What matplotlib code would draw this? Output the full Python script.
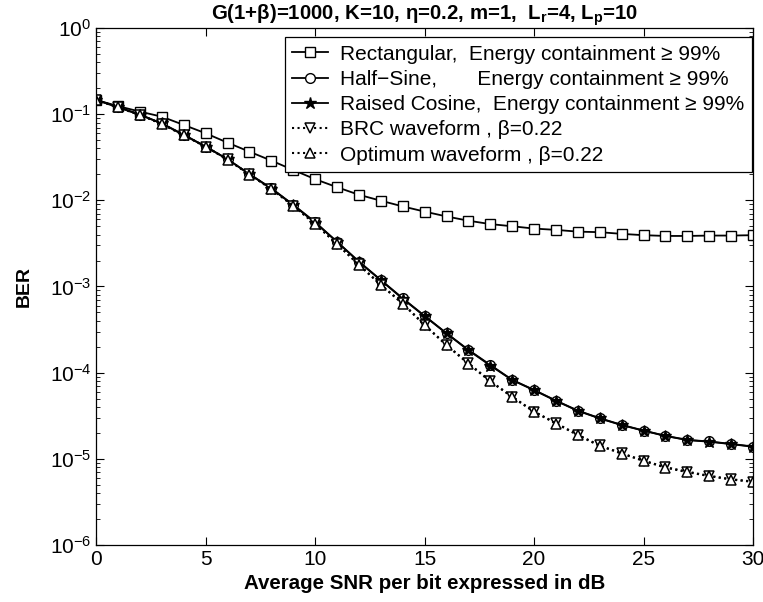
import numpy as np
import matplotlib
matplotlib.use("Agg")
import matplotlib.pyplot as plt
from matplotlib.ticker import LogLocator, NullFormatter, MultipleLocator

plt.rcParams['font.family'] = ['Liberation Sans', 'DejaVu Sans']
plt.rcParams['mathtext.fontset'] = 'custom'
plt.rcParams['mathtext.rm'] = 'Liberation Sans'

# SNR in dB
snr = list(range(0, 31))

# BER values
ber_rect = [0.146, 0.124, 0.107, 0.0935, 0.075, 0.060, 0.0467, 0.0367, 0.0289, 0.0225,
            0.0176, 0.0142, 0.0116, 0.0099, 0.0085, 0.0074, 0.0065, 0.0058, 0.0053, 0.0050,
            0.0047, 0.00454, 0.00433, 0.00427, 0.00408, 0.00394, 0.00386, 0.00386, 0.0039,
            0.0039, 0.00394]
ber_half = [0.146, 0.120, 0.098, 0.078, 0.057, 0.042, 0.030, 0.0202, 0.0138, 0.0089,
            0.0056, 0.0033, 0.00195, 0.00119, 0.00073, 0.000456, 0.000287, 0.000184, 0.000123,
            8.25e-5, 6.3e-5, 4.74e-5, 3.63e-5, 2.96e-5, 2.48e-5, 2.13e-5, 1.85e-5, 1.66e-5,
            1.59e-5, 1.49e-5, 1.39e-5]
ber_rc = [0.147, 0.121, 0.099, 0.078, 0.058, 0.042, 0.030, 0.0200, 0.0137, 0.0088,
          0.0055, 0.0033, 0.00193, 0.00118, 0.00072, 0.000452, 0.000285, 0.000182, 0.000121,
          8.2e-5, 6.25e-5, 4.7e-5, 3.6e-5, 2.94e-5, 2.46e-5, 2.12e-5, 1.84e-5, 1.65e-5,
          1.58e-5, 1.48e-5, 1.38e-5]
ber_brc = [0.146, 0.120, 0.098, 0.077, 0.057, 0.042, 0.0298, 0.0200, 0.0136, 0.0087,
           0.0054, 0.0031, 0.0018, 0.00105, 0.00064, 0.000359, 0.00021, 0.000129, 8.0e-5,
           5.28e-5, 3.54e-5, 2.6e-5, 1.9e-5, 1.43e-5, 1.16e-5, 9.55e-6, 8.0e-6, 7.1e-6,
           6.35e-6, 5.8e-6, 5.45e-6]
ber_opt = [0.146, 0.120, 0.098, 0.077, 0.057, 0.042, 0.0297, 0.0199, 0.0135, 0.0086,
           0.0053, 0.0031, 0.00178, 0.00104, 0.00063, 0.000355, 0.000208, 0.000127, 7.9e-5,
           5.22e-5, 3.5e-5, 2.57e-5, 1.88e-5, 1.41e-5, 1.15e-5, 9.45e-6, 7.9e-6, 7.0e-6,
           6.3e-6, 5.75e-6, 5.4e-6]

labels = ["Rectangular,  Energy containment \u2265 99%",
          "Half\u2212Sine,       Energy containment \u2265 99%",
          "Raised Cosine,  Energy containment \u2265 99%",
          "BRC waveform , \u03b2=0.22",
          "Optimum waveform , \u03b2=0.22"]

fig = plt.figure(figsize=(7.63, 6.02), dpi=100)
ax = fig.add_axes([0.126, 0.0947, 0.861, 0.8588])

ax.semilogy(snr, ber_rect, 'k-s', mfc='white', ms=7, lw=1.3, mew=1.0, label=labels[0])
ax.semilogy(snr, ber_half, 'k-o', mfc='white', ms=7, lw=1.3, mew=1.0, label=labels[1])
ax.semilogy(snr, ber_rc, 'k-*', mfc='black', ms=9, lw=1.3, mew=1.0, label=labels[2])
ax.semilogy(snr, ber_brc, 'k:v', mfc='white', ms=7, lw=1.5, mew=1.1, label=labels[3])
ax.semilogy(snr, ber_opt, 'k:^', mfc='white', ms=7, lw=1.5, mew=1.1, label=labels[4])

ax.set_xlim(0, 30)
ax.set_ylim(1e-6, 1)
ax.xaxis.set_major_locator(MultipleLocator(5))
ax.yaxis.set_major_locator(LogLocator(base=10, numticks=10))
ax.yaxis.set_minor_locator(LogLocator(base=10, subs=np.arange(2, 10), numticks=20))
ax.yaxis.set_minor_formatter(NullFormatter())
ax.tick_params(which='both', direction='in', top=True, right=True, labelsize=15)
ax.tick_params(which='major', length=6, width=0.8)
ax.tick_params(which='minor', length=3, width=0.6)
for s in ax.spines.values():
    s.set_linewidth(0.9)

ax.set_xlabel("Average SNR per bit expressed in dB", fontsize=14.8, fontweight='bold',
              labelpad=4)
ax.set_ylabel("BER", fontsize=14, fontweight='bold', labelpad=12)
ax.set_title(r"G(1+$\mathdefault{\beta}$)=1000, K=10, $\mathdefault{\eta}$=0.2, m=1,  "
             r"L$_\mathdefault{r}$=4, L$_\mathdefault{p}$=10",
             fontsize=14.7, fontweight='bold', pad=4)

leg = ax.legend(loc='upper right', bbox_to_anchor=(0.998, 0.982), borderaxespad=0,
                fontsize=15, fancybox=False, edgecolor='black', framealpha=1,
                handlelength=1.7, labelspacing=0.3, borderpad=0.35, handletextpad=0.6)
leg.get_frame().set_linewidth(0.9)

fig.savefig("out.png", dpi=100)
